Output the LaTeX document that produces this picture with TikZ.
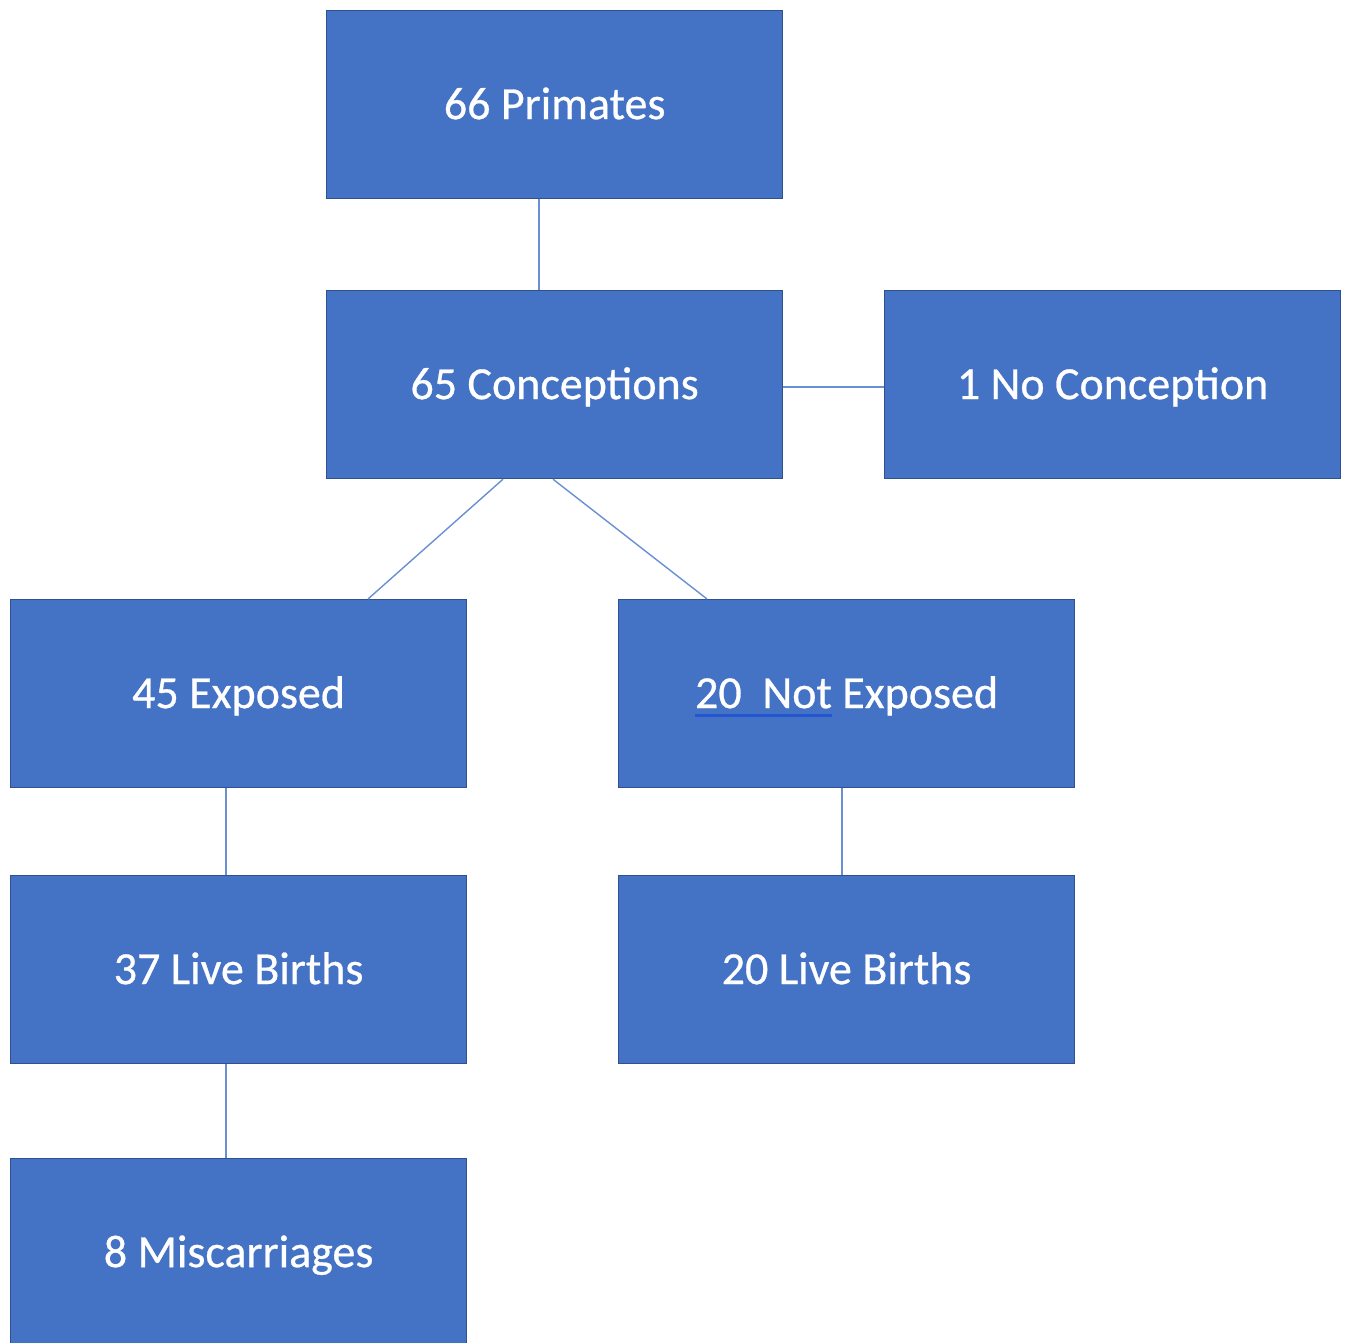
\documentclass[tikz,border=0pt]{standalone}
\usepackage{fontspec}
\setmainfont{Carlito}
\newfontfamily\boxfont[FakeBold=0.6]{Carlito}
\definecolor{boxblue}{HTML}{4472C4}
\definecolor{edgeblue}{HTML}{2F528F}
\definecolor{lineblue}{HTML}{6A8FD2}
\definecolor{ulblue}{HTML}{2456D0}
\newcommand\myblueul[1]{\setbox0\hbox{#1}\rlap{\color{ulblue}\rule[-9pt]{\wd0}{3pt}}\box0\relax}
\begin{document}
\begin{tikzpicture}[x=1pt,y=-1pt,
  boxnode/.style={draw=edgeblue, line width=1.2pt, fill=boxblue, text=white,
    minimum width=456pt, minimum height=188pt, inner sep=0pt, anchor=north west,
    text height=36pt, text depth=7pt,
    font=\boxfont\fontsize{46}{54}\selectfont},
  link/.style={draw=lineblue, line width=1.4pt}]
\useasboundingbox (0,0) rectangle (1349,1343);
\fill[white] (0,0) rectangle (1349,1343);
\node[boxnode] (prim) at (326,10) {66 Primates};
\node[boxnode] (conc) at (326,290) {65 Conceptions};
\node[boxnode] (noc) at (884,290) {1 No Conception};
\node[boxnode] (exp) at (10,599) {45 Exposed};
\node[boxnode] (nexp) at (618,599) {\myblueul{20\ \ Not} Exposed};
\node[boxnode] (lb37) at (10,875) {37 Live Births};
\node[boxnode] (lb20) at (618,875) {20 Live Births};
\node[boxnode] (mis) at (10,1158) {8 Miscarriages};
\draw[link] (prim.south -| 539,0) -- (conc.north -| 539,0);
\draw[link] (conc.east |- 0,387) -- (noc.west |- 0,387);
\draw[link] (conc.south -| 503,0) -- (exp.north -| 368,0);
\draw[link] (conc.south -| 553,0) -- (nexp.north -| 707,0);
\draw[link] (exp.south -| 226,0) -- (lb37.north -| 226,0);
\draw[link] (nexp.south -| 842,0) -- (lb20.north -| 842,0);
\draw[link] (lb37.south -| 226,0) -- (mis.north -| 226,0);
\end{tikzpicture}
\end{document}
